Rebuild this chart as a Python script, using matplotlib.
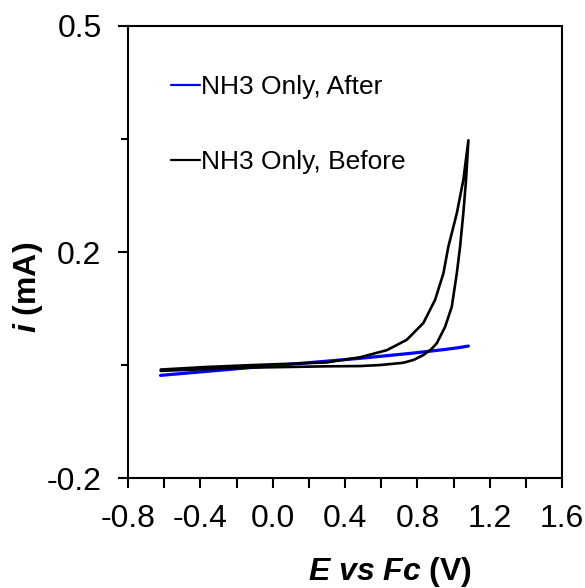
import matplotlib
matplotlib.use("Agg")
import matplotlib.pyplot as plt
from matplotlib.ticker import FixedLocator

plt.rcParams['font.family'] = ['Liberation Sans', 'DejaVu Sans']
plt.rcParams['mathtext.fontset'] = 'custom'
plt.rcParams['mathtext.rm'] = 'Liberation Sans'
plt.rcParams['mathtext.it'] = 'Liberation Sans:italic'
plt.rcParams['mathtext.bf'] = 'Liberation Sans:bold'
plt.rcParams['mathtext.bfit'] = 'Liberation Sans:italic:bold'

# Data: NH3 Only, After (blue)
after_E = [-0.62, -0.125, 0.30, 0.483, 0.759, 0.95, 1.03, 1.082]
after_i = [-0.041, -0.029, -0.019, -0.0146, -0.007, -0.001, 0.002, 0.0044]

# Data: NH3 Only, Before (black, closed CV loop: forward then reverse)
before_E = [-0.619, -0.125, 0.299, 0.483, 0.594, 0.722, 0.78, 0.833, 0.875, 0.907, 0.953,
            0.990, 1.018, 1.036, 1.054, 1.069, 1.082,
            1.054, 1.018, 0.971, 0.944, 0.898, 0.833, 0.741, 0.631, 0.483,
            0.299, -0.107, -0.365, -0.619]
before_i = [-0.034, -0.029, -0.027, -0.0266, -0.025, -0.0215, -0.017, -0.0095, -0.001, 0.0086, 0.034,
            0.065, 0.117, 0.158, 0.210, 0.2615, 0.323,
            0.2615, 0.210, 0.158, 0.117, 0.076, 0.040, 0.014, -0.002, -0.013,
            -0.021, -0.025, -0.028, -0.032]

labels = ['NH3 Only, After', 'NH3 Only, Before']
x_ticks = [-0.8, -0.4, 0.0, 0.4, 0.8, 1.2, 1.6]
x_tick_labels = ['-0.8', '-0.4', '0.0', '0.4', '0.8', '1.2', '1.6']
x_minor = [-0.6, -0.2, 0.2, 0.6, 1.0, 1.4]
y_ticks = [-0.2, 0.15, 0.5]
y_tick_labels = ['-0.2', '0.2', '0.5']
y_minor = [-0.025, 0.325]

fig = plt.figure(figsize=(5.85, 5.88), dpi=100)
ax = fig.add_axes([0.2188, 0.187, 0.742, 0.7688])

ax.plot(after_E, after_i, color='#0000ff', lw=2.3, label=labels[0],
        solid_capstyle='round', solid_joinstyle='round')
ax.plot(before_E, before_i, color='black', lw=1.9, label=labels[1],
        solid_joinstyle='round', solid_capstyle='round')

ax.set_xlim(-0.8, 1.6)
ax.set_ylim(-0.2, 0.5)
ax.set_xticks(x_ticks, labels=x_tick_labels)
ax.set_yticks(y_ticks, labels=y_tick_labels)
ax.xaxis.set_minor_locator(FixedLocator(x_minor))
ax.yaxis.set_minor_locator(FixedLocator(y_minor))
ax.tick_params(axis='both', which='major', direction='out', length=7, width=1.5,
               labelsize=23, pad=12)
ax.tick_params(axis='x', which='minor', direction='out', length=7, width=1.5)
ax.tick_params(axis='y', which='minor', direction='out', length=5, width=1.5)
for s in ax.spines.values():
    s.set_linewidth(1.5)

ax.set_xlabel(r'$\bfit{E\ vs\ Fc}$ (V)', fontsize=23, fontweight='bold')
ax.xaxis.set_label_coords(0.604, -0.208)
ax.xaxis.label.set_va('center')
ax.set_ylabel(r'$\bfit{i}$ (mA)', fontsize=23, fontweight='bold')
ax.yaxis.set_label_coords(-0.230, 0.4226)
ax.yaxis.label.set_va('center')

leg = ax.legend(loc='upper left', bbox_to_anchor=(0.074, 0.915), frameon=False,
                fontsize=19, handlelength=1.1, handletextpad=0.05, labelspacing=1.95,
                borderaxespad=0)
for h in leg.get_lines():
    h.set_linewidth(1.6)

fig.savefig('out.png', dpi=100)
